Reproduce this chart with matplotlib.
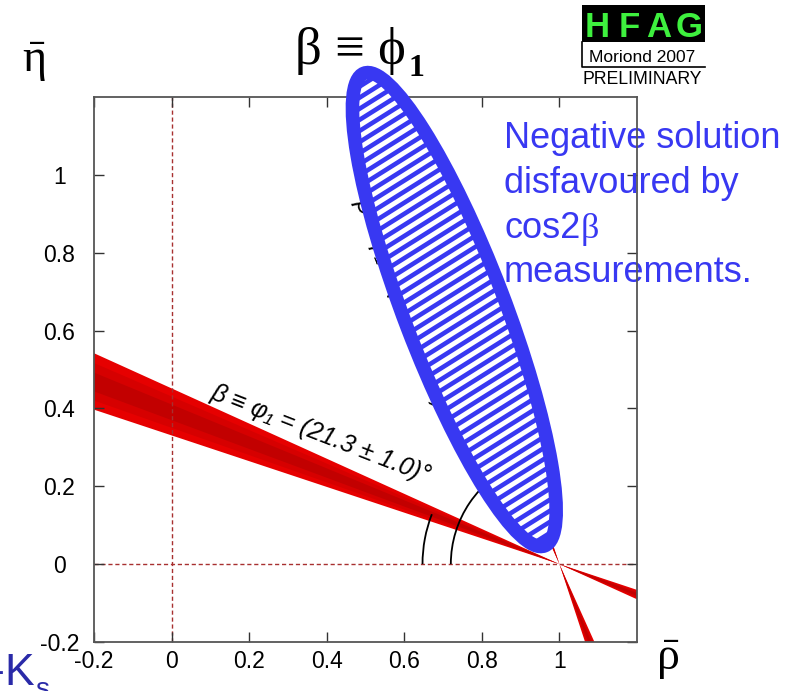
import numpy as np
import matplotlib
matplotlib.use('Agg')
import matplotlib.pyplot as plt
from matplotlib.patches import Ellipse, Arc, Polygon, Rectangle
from matplotlib.lines import Line2D

plt.rcParams['mathtext.fontset'] = 'custom'
plt.rcParams['mathtext.rm'] = 'Liberation Serif'
plt.rcParams['mathtext.it'] = 'Liberation Serif:italic'
plt.rcParams['mathtext.bf'] = 'Liberation Serif:bold'

# beta measurement (degrees)
beta_deg = 21.3
beta_err = 1.0
n_sigma = [3, 2, 1]
band_colors = ['#e60000', '#d60000', '#c20000']
apex = (1.0, 0.0)

# axis ticks
tick_vals = [-0.2, 0, 0.2, 0.4, 0.6, 0.8, 1]
tick_labels = ['-0.2', '0', '0.2', '0.4', '0.6', '0.8', '1']

# arcs marking the angles (radius in data units)
arc_radii = [0.353, 0.28]

# overlay ellipse around the disfavoured solution (data units)
ell_center = (0.729, 0.654)
ell_length = 1.30
ell_width = 0.26
ell_angle = 111.0

note_lines = ['Negative solution', 'disfavoured by', 'cos2', 'measurements.']
blue = '#3838f2'

W, H = 808, 691


def px(x, y):
    return x / W, 1 - y / H


def wedge(a1, a2, L=3.0):
    d1 = np.array([-np.cos(np.radians(a1)), np.sin(np.radians(a1))])
    d2 = np.array([-np.cos(np.radians(a2)), np.sin(np.radians(a2))])
    p = np.array(apex)
    return [p, p + L * d1, p + L * d2], [p, p - L * d1, p - L * d2]


fig = plt.figure(figsize=(W / 100, H / 100), dpi=100)
ax = fig.add_axes([94 / W, 1 - 642 / H, 543 / W, 545 / H])
ax.set_xlim(-0.2, 1.2)
ax.set_ylim(-0.2, 1.2)

# red wedges: beta and 90-beta solutions
for ang in [beta_deg, 90 - beta_deg]:
    for ns, col in zip(n_sigma, band_colors):
        for tri in wedge(ang - ns * beta_err, ang + ns * beta_err):
            ax.add_patch(Polygon(tri, closed=True, facecolor=col,
                                 edgecolor='none', zorder=1))

ax.axvline(0, color='#a83030', lw=1, ls=(0, (3, 2)), zorder=1.5)
ax.axhline(0, color='#a83030', lw=1, ls=(0, (3, 2)), zorder=1.5)

ax.add_patch(Arc(apex, 2 * arc_radii[0], 2 * arc_radii[0],
                 theta1=180 - beta_deg, theta2=180, color='black', lw=1.3, zorder=3))
ax.add_patch(Arc(apex, 2 * arc_radii[1], 2 * arc_radii[1],
                 theta1=90 + beta_deg, theta2=180, color='black', lw=1.3, zorder=3))

lab_font = ['Liberation Sans', 'DejaVu Sans']
ax.text(0.385, 0.335, 'β ≡ φ₁ = (%.1f ± %.1f)°' % (beta_deg, beta_err),
        rotation=-beta_deg, rotation_mode='anchor', ha='center', va='center',
        fontsize=18, style='italic', family=lab_font, zorder=3)
ax.text(0.60, 0.66, 'β ≡ φ₁ = (%.1f ± %.1f)°' % (90 - beta_deg, beta_err),
        rotation=-(90 - beta_deg), rotation_mode='anchor', ha='center', va='center',
        fontsize=18, style='italic', family=lab_font, zorder=3)

# ticks
ax.set_xticks(tick_vals)
ax.set_xticklabels(tick_labels)
ax.set_yticks(tick_vals)
ax.set_yticklabels(tick_labels)
ax.tick_params(direction='in', top=True, right=True, length=7, width=1,
               color='#333333', labelsize=16.5)
ax.tick_params(axis='x', pad=6)
ax.tick_params(axis='y', pad=25)
for lab in ax.get_xticklabels() + ax.get_yticklabels():
    lab.set_family('Liberation Sans')
for lab in ax.get_yticklabels():
    lab.set_horizontalalignment('center')
for sp in ax.spines.values():
    sp.set_color('#555555')
    sp.set_linewidth(1.3)

# blue ellipse with stripes
ell_bg = Ellipse(ell_center, ell_length, ell_width, angle=ell_angle,
                 facecolor='white', edgecolor='none', zorder=4, clip_on=False)
ax.add_patch(ell_bg)
slope = np.tan(np.radians(32))
xs = np.array([0.3, 1.2])
for c in np.arange(-0.9, 1.6, 0.0285):
    ln, = ax.plot(xs, slope * xs + c, color=blue, lw=3.3, zorder=4.5,
                  solid_capstyle='butt')
    ln.set_clip_path(ell_bg)
    ln.set_clip_box(None)
ax.add_patch(Ellipse(ell_center, ell_length, ell_width, angle=ell_angle,
                     facecolor='none', edgecolor=blue, lw=9.8, zorder=5, clip_on=False))

# blue note, drawn below the spines
base = [148, 193, 238, 282]
for line, yb in zip(note_lines, base):
    ax.text(*px(504, yb), line, transform=fig.transFigure, color=blue,
            fontsize=26, family='Liberation Sans', va='baseline', ha='left',
            zorder=2, clip_on=False)
fig.canvas.draw()
r = fig.canvas.get_renderer()
bb = ax.texts[-2].get_window_extent(r)
ax.text(bb.x1 / W, 1 - 238 / H, 'β', transform=fig.transFigure, color=blue,
        fontsize=26, family='Liberation Serif', va='baseline', ha='left',
        zorder=2, clip_on=False)

# title and axis labels
tt = fig.text(*px(295, 64), 'β ≡ ϕ', fontsize=38,
              family=['Liberation Serif', 'DejaVu Serif'], va='baseline', ha='left')
fig.canvas.draw()
bb = tt.get_window_extent(fig.canvas.get_renderer())
fig.text(bb.x1 / W + 0.003, 1 - 76 / H, '1', fontsize=23, weight='bold',
         family='Liberation Serif', va='baseline', ha='left')
fig.text(*px(34, 62), r'$\bar{\mathrm{\eta}}$', fontsize=33, ha='center', va='center')
fig.text(*px(668, 660), r'$\bar{\mathrm{\rho}}$', fontsize=33, ha='center', va='center')

# HFAG logo
fig.add_artist(Rectangle(px(582, 42), 123 / W, 37 / H, transform=fig.transFigure,
                         facecolor='black', edgecolor='none'))
for letter, xc in zip('HFAG', [597, 629, 659, 689]):
    fig.text(*px(xc, 37), letter, color='#3ef03e', fontsize=25, weight='bold',
             family='Liberation Sans', ha='center', va='baseline')
fig.add_artist(Line2D([582 / W, 582 / W, 705 / W], [1 - 42 / H, 1 - 67 / H, 1 - 67 / H],
                      transform=fig.transFigure, color='black', lw=1.2))
fig.text(*px(642, 62), 'Moriond 2007', fontsize=12.5, family='Liberation Sans',
         ha='center', va='baseline')
fig.text(*px(642, 84), 'PRELIMINARY', fontsize=12.7, family='Liberation Sans',
         ha='center', va='baseline')

# cut-off text at the bottom left
fig.text(*px(5, 672), '-', color='#2a2aa8', fontsize=32, family='Liberation Sans',
         ha='right', va='center')
fig.text(*px(4, 685), 'K', color='#2a2aa8', fontsize=32, family='Liberation Sans',
         ha='left', va='baseline')
fig.text(*px(35, 697), 's', color='#2a2aa8', fontsize=20, family='Liberation Sans',
         ha='left', va='baseline')

fig.savefig('out.png', dpi=100)
